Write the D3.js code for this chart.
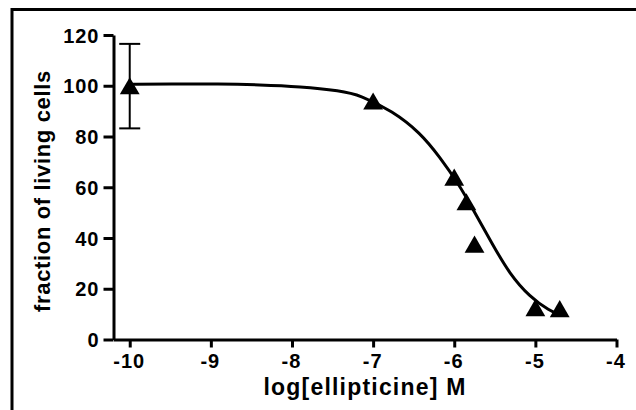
<!DOCTYPE html>
<html>
<head>
<meta charset="utf-8">
<script src="https://cdn.jsdelivr.net/npm/d3@7"></script>
<style>
  body { margin: 0; background: #fff; }
  svg { display: block; }
  .axis text { font-family: "Liberation Sans", Arial, sans-serif; font-weight: bold; font-size: 20px; letter-spacing: 1px; fill: #000; }
  .axis path, .axis line { stroke: #000; stroke-width: 3; }
  .title { font-family: "Liberation Sans", Arial, sans-serif; font-weight: bold; fill: #000; }
</style>
</head>
<body>
<div id="chart"></div>
<script>
// measured points (log M, % living)
const logConc = [-10, -7, -6, -5.85, -5.75, -5, -4.7];
const living = [100, 94, 64, 54.3, 37.6, 12.6, 12.2];
// error bar on the control point
const errLow = [83.2];
const errHigh = [116.5];

// fitted curve
const curveX = [-10, -9.5, -8.9, -8.4, -7.9, -7.4, -7.16, -6.76, -6.42, -6.18, -5.93, -5.79, -5.52, -5.32, -5.07, -4.82, -4.7];
const curveY = [100.6, 100.7, 100.7, 100.4, 99.7, 98.0, 96.3, 90.0, 81.5, 72.0, 60.5, 52.5, 37.0, 26.0, 16.8, 11.2, 9.8];

const xTicks = [-10, -9, -8, -7, -6, -5, -4];
const yTicks = [0, 20, 40, 60, 80, 100, 120];

const width = 636, height = 410;

const svg = d3.select(`#chart`)
  .append(`svg`)
    .attr(`width`, width)
    .attr(`height`, height);

// outer frame, right and bottom edges fall outside the picture
svg.append(`rect`)
  .attr(`x`, 12)
  .attr(`y`, 9.5)
  .attr(`width`, width)
  .attr(`height`, height)
  .attr(`fill`, `none`)
  .attr(`stroke`, `#000`)
  .attr(`stroke-width`, 3);

const x = d3.scaleLinear()
  .domain([-10.2, -4])
  .range([113.5, 616.5]);

const y = d3.scaleLinear()
  .domain([0, 120])
  .range([339.5, 35]);

// plain hyphen minus like the original
const fmt = d => String(d);

svg.append(`g`)
  .attr(`class`, `axis`)
  .attr(`transform`, `translate(0,${y(0)})`)
  .call(d3.axisBottom(x)
    .tickValues(xTicks)
    .tickFormat(fmt)
    .tickSize(8)
    .tickSizeOuter(0)
    .tickPadding(6))
  .selectAll(`text`)
    .attr(`dx`, `-1`);

svg.append(`g`)
  .attr(`class`, `axis`)
  .attr(`transform`, `translate(${x(-10.2)},0)`)
  .call(d3.axisLeft(y)
    .tickValues(yTicks)
    .tickFormat(fmt)
    .tickSize(10)
    .tickSizeOuter(0)
    .tickPadding(4))
  .selectAll(`text`)
    .attr(`dy`, `0.36em`);

// axis titles
svg.append(`text`)
  .attr(`class`, `title`)
  .attr(`x`, (x.range()[0] + x.range()[1]) / 2)
  .attr(`y`, 395)
  .attr(`text-anchor`, `middle`)
  .style(`font-size`, `23px`)
  .style(`letter-spacing`, `1.2px`)
  .text(`log[ellipticine] M`);

svg.append(`text`)
  .attr(`class`, `title`)
  .attr(`transform`, `translate(50,191) rotate(-90)`)
  .attr(`text-anchor`, `middle`)
  .style(`font-size`, `22px`)
  .style(`letter-spacing`, `0.65px`)
  .text(`fraction of living cells`);

// fit curve
const line = d3.line()
  .x(d => x(d[0]))
  .y(d => y(d[1]))
  .curve(d3.curveBasis);

svg.append(`path`)
  .datum(curveX.map((v, i) => [v, curveY[i]]))
  .attr(`d`, line)
  .attr(`fill`, `none`)
  .attr(`stroke`, `#000`)
  .attr(`stroke-width`, 3);

// error bar
const err = svg.append(`g`)
  .attr(`stroke`, `#000`)
  .attr(`stroke-width`, 2);

err.append(`line`)
  .attr(`x1`, x(logConc[0])).attr(`x2`, x(logConc[0]))
  .attr(`y1`, y(errLow[0])).attr(`y2`, y(errHigh[0]));

[errLow[0], errHigh[0]].forEach(v => {
  err.append(`line`)
    .attr(`x1`, x(logConc[0]) - 10.5).attr(`x2`, x(logConc[0]) + 10.5)
    .attr(`y1`, y(v)).attr(`y2`, y(v));
});

// triangle markers, shifted so the box centre sits on the value
const tri = d3.symbol().type(d3.symbolTriangle).size(170);

svg.append(`g`)
  .selectAll(`path`)
  .data(logConc.map((v, i) => [v, living[i]]))
  .enter().append(`path`)
    .attr(`d`, tri)
    .attr(`transform`, d => `translate(${x(d[0])},${y(d[1]) + 2.9})`)
    .attr(`fill`, `#000`);
</script>
</body>
</html>
